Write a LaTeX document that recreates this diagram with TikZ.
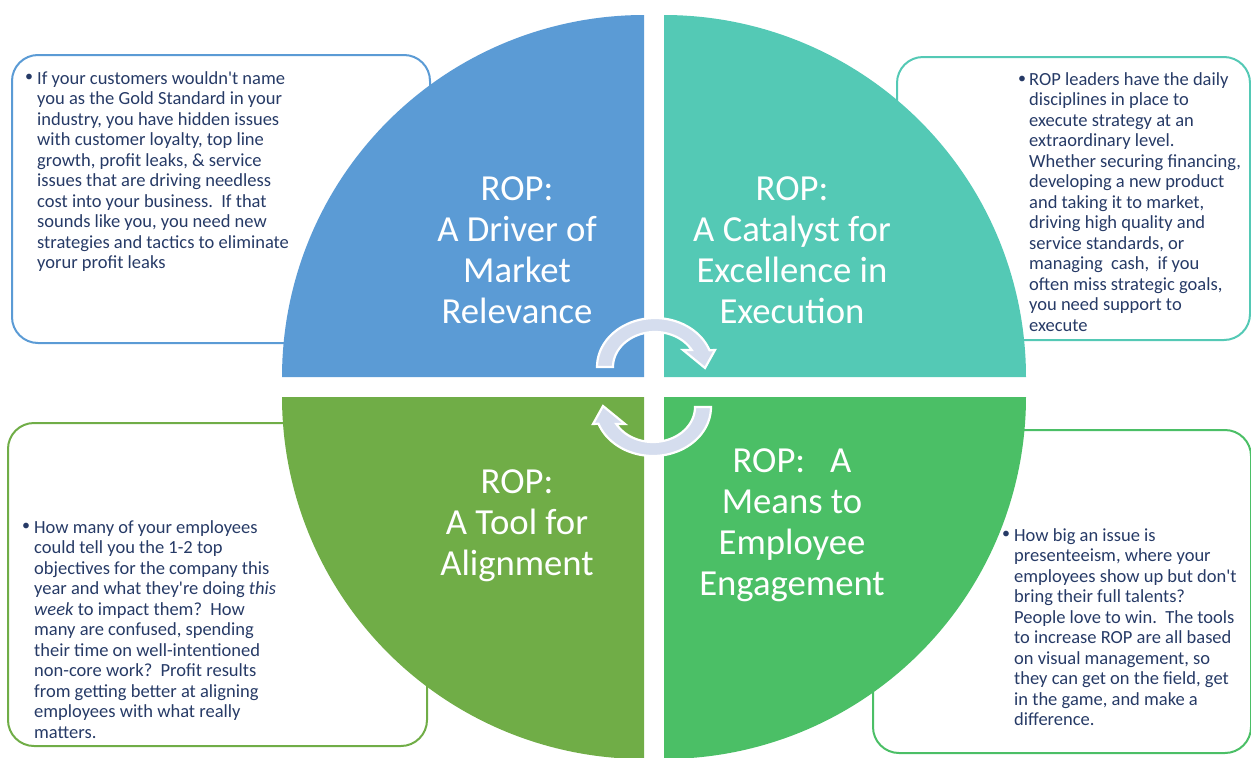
\documentclass[tikz,border=0pt]{standalone}
\usepackage{fontspec}
\setmainfont{Carlito}[Ligatures=TeXOff]
\definecolor{cblue}{HTML}{5B9BD5}
\definecolor{cteal}{HTML}{54C9B5}
\definecolor{cgreenA}{HTML}{70AD47}
\definecolor{cgreenB}{HTML}{4BBF66}
\definecolor{navy}{HTML}{263A66}
\definecolor{arrowfill}{HTML}{D5DDEE}
\begin{document}
\begin{tikzpicture}[x=1pt,y=-1pt,
  box/.style={line width=2pt, rounded corners=26pt},
  body/.style={text=navy, align=left, inner sep=0pt, anchor=north west,
               font=\fontsize{18.5}{20.5}\selectfont},
  dot/.style={text=navy, inner sep=0pt, font=\fontsize{16}{16}\selectfont},
  title/.style={text=white, align=center, inner sep=0pt,
                font=\fontsize{36.7}{41}\selectfont},
  turn/.style={fill=arrowfill, draw=white, line width=2.2pt, line join=miter}
]
\useasboundingbox (0,0) rectangle (1251,758);
\clip (0,0) rectangle (1251,758);

% rounded text panels (behind the circle)
\draw[box, draw=cblue]   (12,55)  rectangle (430,343);
\draw[box, draw=cteal]   (897,57) rectangle (1250,340);
\draw[box, draw=cgreenA] (8,423)  rectangle (427,746);
\draw[box, draw=cgreenB] (873,430) rectangle (1251,753);

% four quarter discs
\fill[cblue]   (644,377) -- plot[domain=180:90,samples=90]  ({644+362*cos(\x)},{377-362*sin(\x)}) -- cycle;
\fill[cteal]   (664,377) -- plot[domain=90:0,samples=90]    ({664+362*cos(\x)},{377-362*sin(\x)}) -- cycle;
\fill[cgreenA] (644,397) -- plot[domain=180:270,samples=90] ({644+362*cos(\x)},{397-362*sin(\x)}) -- cycle;
\fill[cgreenB] (664,397) -- plot[domain=270:360,samples=90] ({664+362*cos(\x)},{397-362*sin(\x)}) -- cycle;

% circular arrows in the middle
\path[turn] plot[domain=180:20,samples=40] ({655+58*cos(\x)},{367-49*sin(\x)})
  -- (715,350) -- (705,368) -- (683,350)
  -- plot[domain=29:180,samples=40] ({655+42*cos(\x)},{367-35*sin(\x)}) -- cycle;
\path[turn, rotate around={180:(654,387)}] plot[domain=180:20,samples=40] ({655+58*cos(\x)},{367-49*sin(\x)})
  -- (715,350) -- (705,368) -- (683,350)
  -- plot[domain=29:180,samples=40] ({655+42*cos(\x)},{367-35*sin(\x)}) -- cycle;

% quadrant titles
\node[title] (relevance) at (517,250) {ROP:\\A Driver of\\Market\\Relevance};
\node[title] (execution) at (792,250) {ROP:\\A Catalyst for\\Excellence in\\Execution};
\node[title] (alignment) at (517,526) {ROP:\\A Tool for\\Alignment};
\node[title] (engagement) at (792,525) {ROP:\ \ \ A\\Means to\\Employee\\Engagement};

% panel texts
\node[dot] (b1) at (29,78) {•};
\node[body] (p1) at (37,71) {If your customers wouldn't name\\
you as the Gold Standard in your\\
industry, you have hidden issues\\
with customer loyalty, top line\\
growth, profit leaks, \& service\\
issues that are driving needless\\
cost into your business.\ \ If that\\
sounds like you, you need new\\
strategies and tactics to eliminate\\
yorur profit leaks};

\node[dot] (b2) at (1022,80) {•};
\node[body] (p2) at (1029,72) {ROP leaders have the daily\\
disciplines in place to\\
execute strategy at an\\
extraordinary level.\\
Whether securing financing,\\
developing a new product\\
and taking it to market,\\
driving high quality and\\
service standards, or\\
managing\ \ cash,\ \ if you\\
often miss strategic goals,\\
you need support to\\
execute};

\node[dot] (b3) at (26,527) {•};
\node[body] (p3) at (34,520) {How many of your employees\\
could tell you the 1-2 top\\
objectives for the company this\\
year and what they're doing \textit{this}\\
\textit{week} to impact them?\ \ How\\
many are confused, spending\\
their time on well-intentioned\\
non-core work?\ \ Profit results\\
from getting better at aligning\\
employees with what really\\
matters.};

\node[dot] (b4) at (1006,535) {•};
\node[body] (p4) at (1014,528) {How big an issue is\\
presenteeism, where your\\
employees show up but don't\\
bring their full talents?\\
People love to win.\ \ The tools\\
to increase ROP are all based\\
on visual management, so\\
they can get on the field, get\\
in the game, and make a\\
difference.};
\end{tikzpicture}
\end{document}
